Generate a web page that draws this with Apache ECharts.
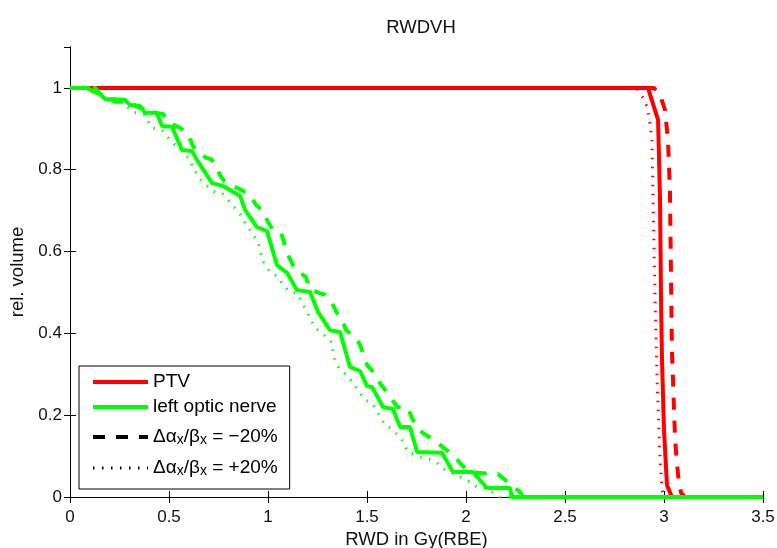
<!DOCTYPE html>
<html>
<head>
<meta charset="utf-8">
<title>RWDVH</title>
<script src="https://cdn.jsdelivr.net/npm/echarts@6/dist/echarts.min.js"></script>
<style>
  html, body { margin: 0; padding: 0; background: #fff; }
  #chart { width: 777px; height: 548px; }
</style>
</head>
<body>
<div id="chart"></div>
<script>
// dose (Gy(RBE)) and relative volume
const ptvDose = [0, 2.919, 2.970, 2.980, 2.985, 2.990, 3.000, 3.015, 3.040];
const ptvVol  = [1, 1,     0.922, 0.726, 0.482, 0.335, 0.164, 0.029, 0];

const ptvMinusDose = [0, 2.949, 2.980, 3.005, 3.020, 3.030, 3.040, 3.056, 3.071, 3.086, 3.106];
const ptvMinusVol  = [1, 1,     0.983, 0.946, 0.873, 0.751, 0.359, 0.139, 0.054, 0.010, 0];

const ptvPlusDose = [0, 2.843, 2.869, 2.894, 2.914, 2.929, 2.939, 2.944, 2.955, 2.965, 2.980, 2.990, 3.000];
const ptvPlusVol  = [1, 1,     0.995, 0.976, 0.954, 0.914, 0.873, 0.751, 0.482, 0.286, 0.090, 0.017, 0];

const nerveDose = [0, 0.091, 0.111, 0.152, 0.177, 0.278, 0.303, 0.354, 0.379, 0.439, 0.465, 0.515,
  0.566, 0.616, 0.641, 0.717, 0.773, 0.823, 0.859, 0.884, 0.944, 0.995, 1.045, 1.096, 1.146, 1.212,
  1.253, 1.313, 1.364, 1.414, 1.465, 1.500, 1.525, 1.581, 1.631, 1.667, 1.717, 1.753, 1.879, 1.934,
  2.035, 2.106, 2.222, 2.232, 3.5];
const nerveVol = [1, 1, 0.993, 0.985, 0.973, 0.971, 0.958, 0.956, 0.939, 0.939, 0.907, 0.905,
  0.848, 0.846, 0.824, 0.768, 0.760, 0.746, 0.736, 0.702, 0.660, 0.650, 0.567, 0.548, 0.506, 0.501,
  0.452, 0.408, 0.403, 0.318, 0.308, 0.271, 0.269, 0.220, 0.215, 0.171, 0.171, 0.110, 0.108, 0.061,
  0.061, 0.022, 0.022, 0, 0];

const nerveMinusDose = [0, 0.126, 0.167, 0.232, 0.303, 0.338, 0.404, 0.470, 0.505, 0.556, 0.591,
  0.621, 0.641, 0.682, 0.717, 0.758, 0.778, 0.833, 0.864, 0.909, 0.939, 0.970, 1.000, 1.025, 1.066,
  1.101, 1.126, 1.152, 1.192, 1.207, 1.247, 1.288, 1.328, 1.348, 1.374, 1.394, 1.439, 1.465, 1.500,
  1.530, 1.561, 1.591, 1.621, 1.652, 1.707, 1.727, 1.753, 1.783, 1.823, 1.934, 1.970, 2.005, 2.056,
  2.162, 2.273, 2.288, 3.5];
const nerveMinusVol = [1, 1, 0.978, 0.966, 0.966, 0.954, 0.941, 0.936, 0.914, 0.902, 0.892,
  0.858, 0.844, 0.831, 0.824, 0.787, 0.773, 0.758, 0.751, 0.738, 0.714, 0.702, 0.672, 0.653, 0.645,
  0.592, 0.567, 0.550, 0.538, 0.511, 0.501, 0.494, 0.469, 0.450, 0.433, 0.408, 0.391, 0.372, 0.323,
  0.306, 0.281, 0.262, 0.242, 0.220, 0.218, 0.193, 0.171, 0.156, 0.144, 0.103, 0.083, 0.066, 0.059,
  0.056, 0.012, 0, 0];

const nervePlusDose = [0, 0.076, 0.126, 0.177, 0.253, 0.318, 0.379, 0.414, 0.465, 0.505, 0.530,
  0.571, 0.606, 0.621, 0.646, 0.672, 0.732, 0.768, 0.818, 0.843, 0.869, 0.884, 0.909, 0.949, 0.960,
  0.970, 1.010, 1.051, 1.076, 1.111, 1.146, 1.172, 1.192, 1.237, 1.273, 1.323, 1.328, 1.338, 1.364,
  1.399, 1.429, 1.465, 1.490, 1.525, 1.556, 1.591, 1.631, 1.677, 1.707, 1.768, 1.833, 1.854, 1.894,
  1.970, 2.030, 2.061, 2.096, 2.157, 2.172, 3.5];
const nervePlusVol = [1, 1, 0.988, 0.976, 0.971, 0.941, 0.934, 0.902, 0.897, 0.873, 0.861,
  0.844, 0.824, 0.804, 0.787, 0.768, 0.746, 0.743, 0.714, 0.702, 0.685, 0.670, 0.653, 0.623, 0.604,
  0.579, 0.550, 0.538, 0.518, 0.501, 0.499, 0.477, 0.457, 0.413, 0.401, 0.377, 0.355, 0.335, 0.311,
  0.298, 0.279, 0.254, 0.237, 0.230, 0.205, 0.176, 0.164, 0.139, 0.110, 0.098, 0.090, 0.083, 0.066,
  0.049, 0.034, 0.022, 0.022, 0.005, 0, 0];

const xTicks = [0, 0.5, 1, 1.5, 2, 2.5, 3, 3.5];
const yTicks = [0, 0.2, 0.4, 0.6, 0.8, 1];

const FONT = "Liberation Sans, Arial, Helvetica, sans-serif";
const RED = "#ff0000";
const GREEN = "#00ff00";
const DASH = [12, 11];
const DOT = [1.5, 7.5];

function pairs(xs, ys) {
  return xs.map((x, i) => [x, ys[i]]);
}

function curve(name, xs, ys, color, type, width) {
  return {
    name: name,
    type: "line",
    data: pairs(xs, ys),
    symbol: "none",
    showSymbol: false,
    clip: false,
    lineStyle: { color: color, width: width, type: type, cap: "butt" },
    itemStyle: { color: color },
    emphasis: { disabled: true }
  };
}

const legendText = {
  "PTV": "{m|PTV}",
  "left optic nerve": "{m|left optic nerve}",
  "minus": "{m|\u0394\u03b1}{s|x}{m|/\u03b2}{s|x}{m| = \u221220%}",
  "plus": "{m|\u0394\u03b1}{s|x}{m|/\u03b2}{s|x}{m| = +20%}"
};

let chart = echarts.init(document.getElementById("chart"));

const option = {
  animation: false,
  backgroundColor: "#fff",
  title: {
    text: "RWDVH",
    left: 416,
    textAlign: "center",
    top: 13,
    textStyle: { fontFamily: FONT, fontSize: 18.5, fontWeight: "normal", color: "#111" }
  },
  grid: { left: 70, right: 14, top: 47, bottom: 51, outerBoundsMode: "none", containLabel: false },
  legend: {
    orient: "vertical",
    left: 79,
    top: 366,
    backgroundColor: "#fff",
    borderColor: "#000",
    borderWidth: 1,
    padding: [6, 12, 11, 12],
    itemGap: 6,
    itemWidth: 55,
    itemHeight: 14,
    selectedMode: false,
    itemStyle: { opacity: 0 },
    textStyle: {
      fontFamily: FONT,
      color: "#000",
      rich: {
        m: { fontFamily: FONT, fontSize: 19, lineHeight: 20, verticalAlign: "top", color: "#000" },
        s: { fontFamily: FONT, fontSize: 14, lineHeight: 14, padding: [11, 0, 0, 0], verticalAlign: "bottom", color: "#000" }
      }
    },
    formatter: function (name) { return legendText[name]; },
    data: [
      { name: "PTV", itemStyle: { opacity: 0 }, lineStyle: { color: RED, width: 4 } },
      { name: "left optic nerve", itemStyle: { opacity: 0 }, lineStyle: { color: GREEN, width: 4 } },
      { name: "minus", itemStyle: { color: "#000", opacity: 0 }, lineStyle: { color: "#000", type: DASH, width: 4 } },
      { name: "plus", itemStyle: { color: "#000", opacity: 0 }, lineStyle: { color: "#000", type: DOT, width: 3 } }
    ]
  },
  xAxis: [
    {
      type: "value",
      min: 0, max: 3.5, interval: 0.5,
      name: "RWD in Gy(RBE)",
      nameLocation: "middle",
      nameGap: 29,
      nameTextStyle: { fontFamily: FONT, fontSize: 18.5, color: "#111" },
      axisLine: { show: true, lineStyle: { color: "#000", width: 1 } },
      axisTick: { show: true, inside: true, length: 6, lineStyle: { color: "#000" } },
      axisLabel: {
        fontFamily: FONT, fontSize: 17, color: "#111", margin: 12,
        formatter: function (v) { return xTicks.indexOf(v) >= 0 ? String(v) : ""; }
      },
      splitLine: { show: false }
    },
    {
      type: "value",
      position: "top",
      min: 0, max: 3.5, interval: 0.5,
      axisLine: { show: true, lineStyle: { color: "#000", width: 1 } },
      axisTick: { show: true, inside: true, length: 6, lineStyle: { color: "#000" } },
      axisLabel: { show: false },
      splitLine: { show: false }
    }
  ],
  yAxis: [
    {
      type: "value",
      min: 0, max: 1.1, interval: 0.2,
      name: "rel. volume",
      nameLocation: "middle",
      nameGap: 31,
      nameTextStyle: { fontFamily: FONT, fontSize: 18.5, color: "#111" },
      axisLine: { show: true, lineStyle: { color: "#000", width: 1 } },
      axisTick: { show: true, inside: true, length: 6, lineStyle: { color: "#000" } },
      axisLabel: {
        fontFamily: FONT, fontSize: 17, color: "#111", margin: 8,
        showMaxLabel: false,
        formatter: function (v) {
          const t = yTicks.find(k => Math.abs(k - v) < 1e-6);
          return t === undefined ? "" : String(t);
        }
      },
      splitLine: { show: false }
    },
    {
      type: "value",
      position: "right",
      min: 0, max: 1.1, interval: 0.2,
      axisLine: { show: true, lineStyle: { color: "#000", width: 1 } },
      axisTick: { show: true, inside: true, length: 6, lineStyle: { color: "#000" } },
      axisLabel: { show: false },
      splitLine: { show: false }
    }
  ],
  series: [
    curve("PTV", ptvDose, ptvVol, RED, "solid", 4),
    curve("minus", ptvMinusDose, ptvMinusVol, RED, DASH, 4),
    curve("plus", ptvPlusDose, ptvPlusVol, RED, DOT, 3),
    curve("left optic nerve", nerveDose, nerveVol, GREEN, "solid", 4),
    curve("minus", nerveMinusDose, nerveMinusVol, GREEN, DASH, 4),
    curve("plus", nervePlusDose, nervePlusVol, GREEN, DOT, 3)
  ]
};

chart.setOption(option);

window.addEventListener("resize", function () {
  chart.resize();
});
</script>
</body>
</html>
